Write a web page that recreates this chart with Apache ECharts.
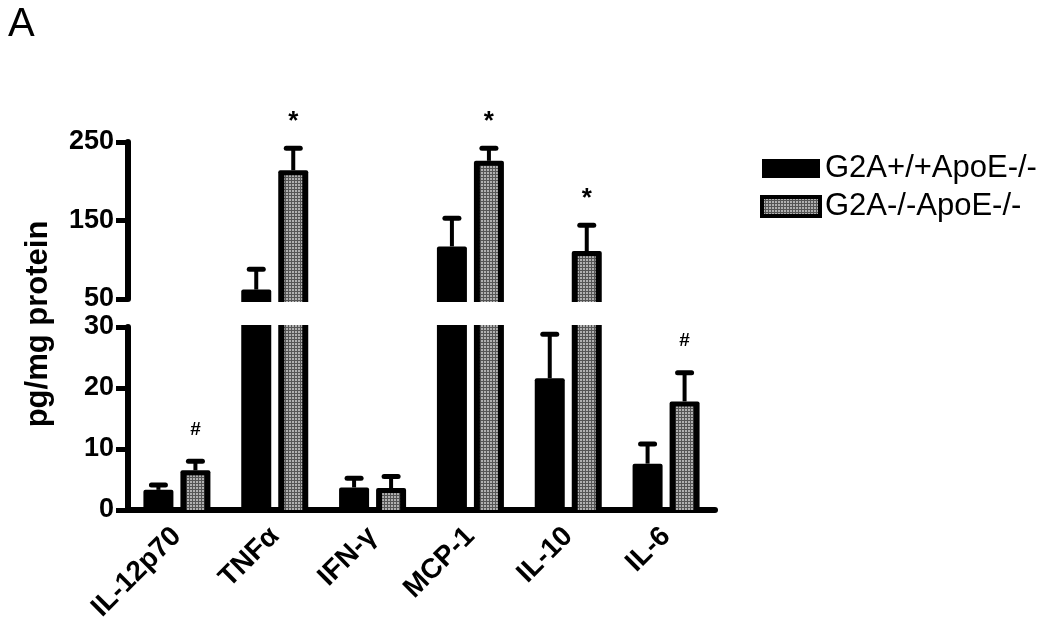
<!DOCTYPE html>
<html>
<head>
<meta charset="utf-8">
<title>Cytokines</title>
<style>
  body { margin: 0; background: #fff; }
  #chart { width: 1050px; height: 629px; }
</style>
</head>
<body>
<div id="chart"></div>
<script src="https://cdn.jsdelivr.net/npm/echarts@6/dist/echarts.min.js"></script>
<script>
// data
var categories = ['IL-12p70', 'TNFα', 'IFN-γ', 'MCP-1', 'IL-10', 'IL-6'];
var seriesNames = ['G2A+/+ApoE-/-', 'G2A-/-ApoE-/-'];
var wtMean = [3.3, 62, 3.7, 117, 21.6, 7.6];
var wtErr = [0.8, 26, 1.5, 36, 7.2, 3.2];
var koMean = [6.5, 214, 3.6, 226, 111, 17.8];
var koErr = [1.5, 28, 1.9, 16, 33, 4.7];
var wtMarks = ['', '', '', '', '', ''];
var koMarks = ['#', '*', '', '*', '*', '#'];
// broken axis: lower and upper segment [min, max, step]
var lowRange = [0, 30, 10];
var highRange = [50, 250, 100];

var FONT = 'Liberation Sans, Arial, sans-serif';

// dotted grey fill
var pat = document.createElement('canvas');
pat.width = 3; pat.height = 3;
var pctx = pat.getContext('2d');
pctx.fillStyle = '#b0b0b0';
pctx.fillRect(0, 0, 3, 3);
pctx.fillStyle = '#555';
pctx.fillRect(0, 0, 1, 3);
pctx.fillRect(0, 0, 3, 1);
var dotted = { image: pat, repeat: 'repeat' };

var BAR_W = 30;

function barRenderer(offset, marks, lo, hi, hatched) {
    return function (params, api) {
        var i = api.value(0), m = api.value(1), e = api.value(2);
        var kids = [];
        var cx = api.coord([i, lo])[0] + offset;
        var x = cx - BAR_W / 2;
        if (m > lo) {
            var cut = m > hi;
            var yTop = api.coord([i, Math.min(m, hi)])[1] - (cut ? 2 : 0);
            var yBot = api.coord([i, lo])[1] + (lo > 0 ? 3 : 0);
            kids.push({
                type: 'rect',
                shape: { x: x, y: yTop, width: BAR_W, height: yBot - yTop, r: cut ? 0 : [2, 2, 0, 0] },
                style: { fill: '#000' }
            });
            if (hatched) {
                var iy = cut ? yTop : yTop + 5;
                kids.push({
                    type: 'rect',
                    shape: { x: x + 6, y: iy, width: BAR_W - 12, height: yBot - iy },
                    style: { fill: dotted }
                });
            }
        }
        if (m >= lo && m + e <= hi) {
            var y0 = api.coord([i, m])[1];
            var y1 = api.coord([i, m + e])[1];
            kids.push({
                type: 'line',
                shape: { x1: cx, y1: y0, x2: cx, y2: y1 },
                style: { stroke: '#000', lineWidth: 4 }
            });
            kids.push({
                type: 'line',
                shape: { x1: cx - 7, y1: y1, x2: cx + 7, y2: y1 },
                style: { stroke: '#000', lineWidth: 5, lineCap: 'round' }
            });
            var mk = marks[params.dataIndex];
            if (mk) {
                kids.push({
                    type: 'text',
                    x: cx,
                    y: mk === '*' ? y1 - 13 : y1 - 22,
                    style: {
                        text: mk,
                        fill: '#000',
                        align: 'center',
                        verticalAlign: 'bottom',
                        font: (mk === '*' ? 'bold 26px ' : 'bold 19px ') + FONT
                    }
                });
            }
        }
        return { type: 'group', children: kids };
    };
}

function makeSeries(name, means, errs, marks, offset, idx, range, hatched) {
    return {
        name: name,
        type: 'custom',
        xAxisIndex: idx,
        yAxisIndex: idx,
        encode: { x: 0, y: 1 },
        itemStyle: { color: hatched ? dotted : '#000' },
        data: means.map(function (v, k) { return [k, v, errs[k]]; }),
        renderItem: barRenderer(offset, marks, range[0], range[1], hatched)
    };
}

function valueAxis(idx, range) {
    return {
        type: 'value',
        gridIndex: idx,
        min: range[0],
        max: range[1],
        interval: range[2],
        splitLine: { show: false },
        axisLine: { show: true, lineStyle: { color: '#000', width: 6 } },
        axisTick: { show: true, length: 12, lineStyle: { color: '#000', width: 5 } },
        axisLabel: {
            color: '#000', fontSize: 27, fontWeight: 'bold', fontFamily: FONT, margin: 14
        }
    };
}

var chart = echarts.init(document.getElementById('chart'));
chart.setOption({
    animation: false,
    title: {
        text: 'A', left: 3, top: 0,
        textStyle: { fontSize: 40, fontWeight: 'normal', fontFamily: FONT, color: '#000' }
    },
    legend: {
        orient: 'vertical',
        left: 755,
        top: 148,
        itemWidth: 58,
        itemHeight: 19,
        itemGap: 7,
        textStyle: { fontSize: 31, fontFamily: FONT, color: '#000' },
        data: [
            { name: seriesNames[0], icon: 'rect' },
            { name: seriesNames[1], icon: 'rect', itemStyle: { borderColor: '#000', borderWidth: 4 } }
        ]
    },
    grid: [
        { left: 128, right: 335, top: 327, bottom: 119 },
        { left: 128, right: 335, top: 142, bottom: 330 }
    ],
    xAxis: [
        {
            type: 'category', gridIndex: 0, data: categories,
            axisLine: { lineStyle: { color: '#000', width: 6, cap: 'round' } },
            axisTick: { show: false },
            axisLabel: {
                rotate: 45, margin: 22, interval: 0,
                color: '#000', fontSize: 28, fontWeight: 'bold', fontFamily: FONT
            }
        },
        {
            type: 'category', gridIndex: 1, data: categories,
            axisLine: { show: false }, axisTick: { show: false }, axisLabel: { show: false }
        }
    ],
    yAxis: [valueAxis(0, lowRange), valueAxis(1, highRange)],
    graphic: [{
        type: 'text',
        x: 38,
        y: 324,
        rotation: Math.PI / 2,
        style: {
            text: 'pg/mg protein',
            align: 'center',
            verticalAlign: 'middle',
            fill: '#000',
            font: 'bold 31px ' + FONT
        }
    }],
    series: [
        makeSeries(seriesNames[0], wtMean, wtErr, wtMarks, -18.5, 0, lowRange, false),
        makeSeries(seriesNames[1], koMean, koErr, koMarks, 18.5, 0, lowRange, true),
        makeSeries(seriesNames[0], wtMean, wtErr, wtMarks, -18.5, 1, highRange, false),
        makeSeries(seriesNames[1], koMean, koErr, koMarks, 18.5, 1, highRange, true)
    ]
});
</script>
</body>
</html>
